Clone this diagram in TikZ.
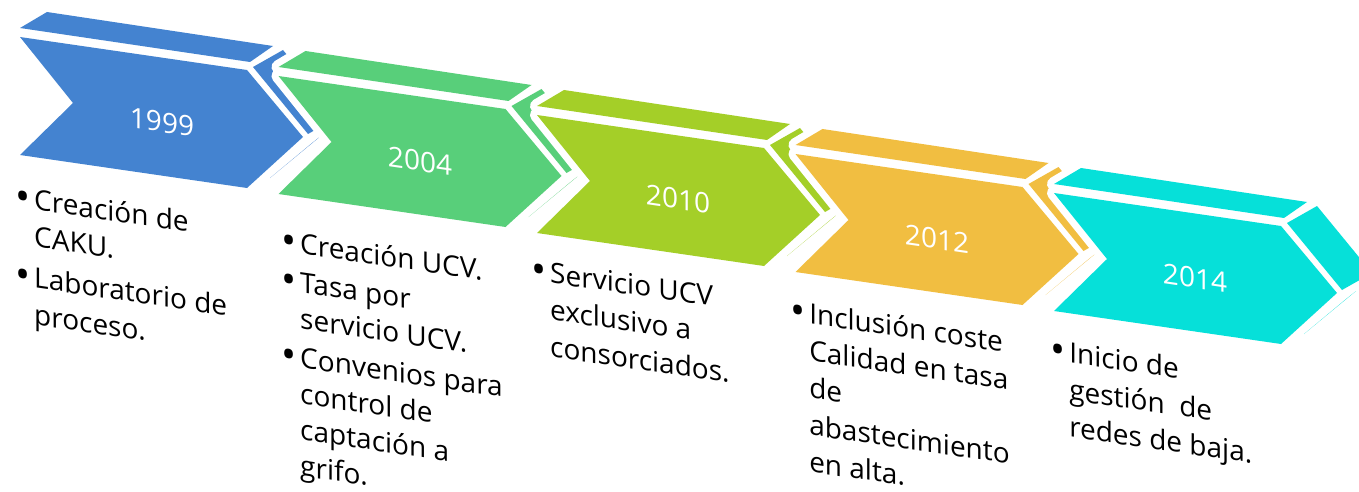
\documentclass[tikz,border=0pt]{standalone}
\usepackage{fontspec}
\setmainfont{Open Sans}
\definecolor{stepBlue}{RGB}{68,131,208}
\definecolor{stepGreen}{RGB}{88,207,122}
\definecolor{stepLime}{RGB}{164,207,40}
\definecolor{stepGold}{RGB}{241,190,65}
\definecolor{stepCyan}{RGB}{6,224,217}
\newcommand\notebullet{\raisebox{-2pt}{\fontsize{40}{37}\selectfont\textbullet}}
% one tilted chevron: colour, x and y (pixels, y down) of the front face corner
\newcommand\chevronshape[3]{%
  \begin{scope}[shift={(#2,-#3)}, yscale=-1]
    \filldraw[white, line width=14pt, line join=round]
      (0,-9) -- (27,-25) -- (253,9) -- (230,25) -- cycle
      (233,30) -- (263,13) -- (318,80) -- (288,97) -- cycle
      (0,0) -- (227,33) -- (283,100) -- (227,151) -- (0,118) -- (53,66) -- cycle
      (292,106) -- (302,98) -- (250,141) -- cycle;
    \fill[#1]
      (0,-9) -- (27,-25) -- (253,9) -- (230,25) -- cycle
      (233,30) -- (263,13) -- (318,80) -- (288,97) -- cycle
      (0,0) -- (227,33) -- (283,100) -- (227,151) -- (0,118) -- (53,66) -- cycle
      (292,106) -- (302,98) -- (250,141) -- cycle;
  \end{scope}}

\begin{document}
\begin{tikzpicture}[x=1pt, y=1pt,
    year/.style={text=white, font=\fontsize{28}{34}\selectfont, inner sep=0pt,
      yslant=-0.145, transform shape},
    notes/.style={anchor=base west, inner sep=0pt, align=left,
      font=\fontsize{28}{37}\selectfont, yslant=-0.145, transform shape}]
  \useasboundingbox (0,0) rectangle (1359,-492);
  \clip (0,0) rectangle (1359,-492);

  %% chevrons
  \chevronshape{stepBlue}{20}{37}
  \chevronshape{stepGreen}{278.5}{76}
  \chevronshape{stepLime}{537}{115}
  \chevronshape{stepGold}{795.5}{154}
  \chevronshape{stepCyan}{1054}{193}

  %% years
  \node[year] (y1999) at (162,-122) {1999};
  \node[year] (y2004) at (420,-161) {2004};
  \node[year] (y2010) at (678,-199) {2010};
  \node[year] (y2012) at (937,-239) {2012};
  \node[year] (y2014) at (1195,-278) {2014};

  %% notes
  \node[notes] (n1999) at (15,-207) {\begin{tabular}[t]{@{}l@{\hspace{4pt}}l@{}}
    \notebullet & Creación de\\ & CAKU.\\[4pt]
    \notebullet & Laboratorio de\\ & proceso.
  \end{tabular}};
  \node[notes, font=\fontsize{28}{36}\selectfont] (n2004) at (281,-251) {\begin{tabular}[t]{@{}l@{\hspace{4pt}}l@{}}
    \notebullet & Creación UCV.\\[3pt]
    \notebullet & Tasa por\\ & servicio UCV.\\[3pt]
    \notebullet & Convenios para\\ & control de\\ & captación a\\ & grifo.
  \end{tabular}};
  \node[notes] (n2010) at (531,-280) {\begin{tabular}[t]{@{}l@{\hspace{4pt}}l@{}}
    \notebullet & Servicio UCV\\ & exclusivo a\\ & consorciados.
  \end{tabular}};
  \node[notes] (n2012) at (790,-321) {\begin{tabular}[t]{@{}l@{\hspace{4pt}}l@{}}
    \notebullet & Inclusión coste\\ & Calidad en tasa\\ & de\\ & abastecimiento\\ & en alta.
  \end{tabular}};
  \node[notes] (n2014) at (1050,-360) {\begin{tabular}[t]{@{}l@{\hspace{4pt}}l@{}}
    \notebullet & Inicio de\\ & gestión~ de\\ & redes de baja.
  \end{tabular}};
\end{tikzpicture}
\end{document}
